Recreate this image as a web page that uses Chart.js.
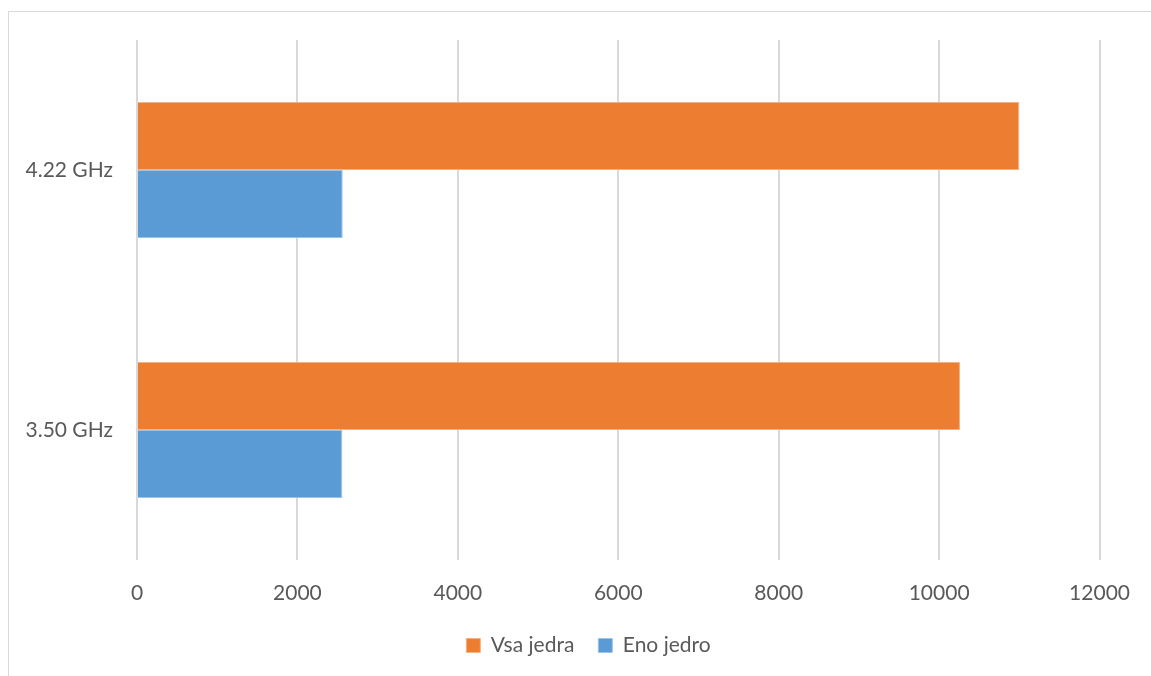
<!DOCTYPE html>
<html>
<head>
<meta charset="utf-8">
<script src="https://cdn.jsdelivr.net/npm/chart.js@4"></script>
<style>
  html, body { margin: 0; padding: 0; background: #fff; }
  #okvir {
    position: absolute; left: 8px; top: 11px; right: 0; bottom: 0;
    border-top: 1.5px solid #d9d9d9; border-left: 1.5px solid #d9d9d9;
  }
  #graf { position: absolute; left: 0; top: 0; }
</style>
</head>
<body>
<div id="okvir"></div>
<canvas id="graf" width="1151" height="676"></canvas>
<script>
// Frekvence procesorja in rezultati testa
const frekvence = ["4.22 GHz", "3.50 GHz"];
const vsaJedra = [11000, 10260];
const enoJedro = [2565, 2560];

const pisava = "Lato, 'Open Sans', sans-serif";
const sivaBesedila = "#595959";

const ctx = document.getElementById("graf").getContext("2d");

// legendo malo zamakne v desno, da je pod sredino celega okvirja
const zamikLegende = {
  id: "zamikLegende",
  afterUpdate(chart) {
    const legenda = chart.legend;
    if (!legenda) return;
    legenda.left += 38;
    legenda.right += 38;
    legenda.adjustHitBoxes();
  },
};

new Chart(ctx, {
  type: "bar",
  data: {
    labels: frekvence,
    datasets: [
      {
        label: "Vsa jedra",
        data: vsaJedra,
        backgroundColor: "#ED7D31",
        borderColor: "#F4B183",
        borderWidth: 1,
      },
      {
        label: "Eno jedro",
        data: enoJedro,
        backgroundColor: "#5B9BD5",
        borderColor: "#9DC3E6",
        borderWidth: 1,
      },
    ],
  },
  options: {
    indexAxis: "y",
    responsive: false,
    animation: false,
    layout: { padding: { top: 40, right: 50, left: 0, bottom: 10 } },
    datasets: {
      bar: { categoryPercentage: 0.523, barPercentage: 1.0 },
    },
    plugins: {
      tooltip: { enabled: false },
      legend: {
        position: "bottom",
        labels: {
          color: sivaBesedila,
          font: { family: pisava, size: 21 },
          boxWidth: 14,
          boxHeight: 14,
          padding: 24,
        },
      },
    },
    scales: {
      x: {
        min: 0,
        max: 12000,
        ticks: {
          stepSize: 2000,
          color: sivaBesedila,
          font: { family: pisava, size: 21 },
          padding: 21,
          callback: (v) => String(v),
        },
        grid: { color: "#d9d9d9", lineWidth: 2, drawTicks: false },
        border: { display: false },
        afterFit: (scale) => { scale.height = 51; },
      },
      y: {
        ticks: {
          color: sivaBesedila,
          font: { family: pisava, size: 21 },
          padding: 16,
        },
        grid: { display: false },
        border: { display: false },
        afterFit: (scale) => { scale.width = 137; },
      },
    },
  },
  plugins: [zamikLegende],
});
</script>
</body>
</html>
